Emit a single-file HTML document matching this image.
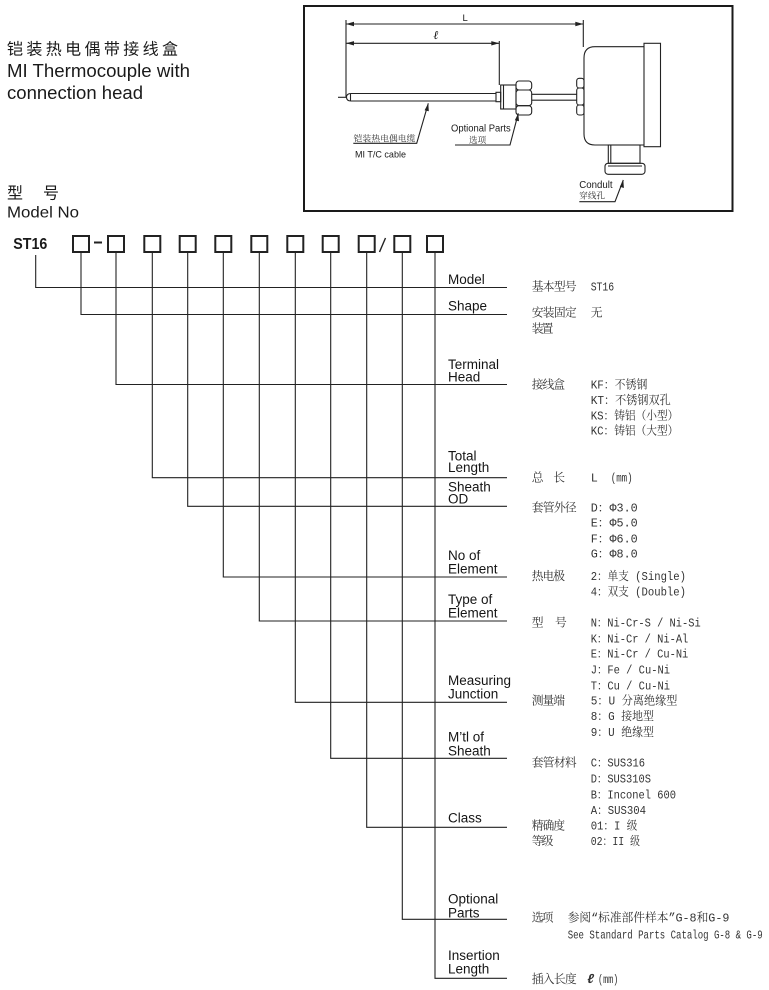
<!DOCTYPE html>
<html><head><meta charset="utf-8"><style>
html,body{margin:0;padding:0;background:#fff;}
svg{display:block;}
.lab{font-family:"Liberation Sans","Noto Sans CJK SC",sans-serif;font-size:13.5px;fill:#151515;}
.cn{font-family:"Liberation Mono","Noto Serif CJK SC",serif;font-size:11.8px;fill:#333;}
.sm{font-family:"Liberation Sans","Noto Sans CJK SC",sans-serif;fill:#1a1a1a;}
</style></head><body>
<svg width="769" height="990" viewBox="0 0 769 990" xmlns="http://www.w3.org/2000/svg">
<rect width="769" height="990" fill="#fff"/>

<!-- Title -->
<text x="7" y="54.5" font-family="'Noto Sans CJK SC',sans-serif" font-size="16" fill="#1a1a1a" textLength="171" lengthAdjust="spacing">铠装热电偶带接线盒</text>
<text x="7" y="77" font-family="'Liberation Sans',sans-serif" font-size="18.5" fill="#1a1a1a" textLength="183" lengthAdjust="spacingAndGlyphs">MI Thermocouple with</text>
<text x="7" y="99" font-family="'Liberation Sans',sans-serif" font-size="18.5" fill="#1a1a1a" textLength="136" lengthAdjust="spacingAndGlyphs">connection head</text>
<text x="7" y="198.5" font-family="'Noto Sans CJK SC',sans-serif" font-size="16" fill="#1a1a1a">型</text>
<text x="43" y="198.5" font-family="'Noto Sans CJK SC',sans-serif" font-size="16" fill="#1a1a1a">号</text>
<text x="7" y="217.5" font-family="'Liberation Sans',sans-serif" font-size="16" fill="#1a1a1a" textLength="72" lengthAdjust="spacingAndGlyphs">Model No</text>

<!-- Drawing box -->
<rect x="304" y="6" width="428.5" height="205" fill="none" stroke="#1a1a1a" stroke-width="2"/>
<g stroke="#222" stroke-width="1.1" fill="none">
  <line x1="346" y1="24" x2="583.3" y2="24"/>
  <line x1="346" y1="43.3" x2="499.3" y2="43.3"/>
  <line x1="346" y1="20" x2="346" y2="97"/>
  <line x1="499.3" y1="41" x2="499.3" y2="85"/>
  <line x1="583.3" y1="20" x2="583.3" y2="47"/>
  <line x1="338" y1="97.3" x2="346" y2="97.3"/>
  <path d="M496,93.5 L351,93.5 Q346.5,93.5 346.5,97.3 Q346.5,101 351,101 L496,101"/>
  <line x1="350.5" y1="93.5" x2="350.5" y2="101"/>
  <rect x="496" y="92.3" width="4.7" height="9.4"/>
  <rect x="500.7" y="85" width="15.3" height="24"/>
  <line x1="503.5" y1="85" x2="503.5" y2="109"/>
  <rect x="516" y="81" width="15.7" height="9" rx="3"/>
  <rect x="516" y="90" width="15.7" height="15.7" rx="3"/>
  <rect x="516" y="105.7" width="15.7" height="9.3" rx="3"/>
  <line x1="531.7" y1="94.3" x2="576.7" y2="94.3"/>
  <line x1="531.7" y1="100.2" x2="576.7" y2="100.2"/>
  <rect x="576.7" y="78.3" width="7.3" height="9.7" rx="2.5"/>
  <rect x="576.7" y="88" width="7.3" height="17" rx="2.5"/>
  <rect x="576.7" y="105" width="7.3" height="10" rx="2.5"/>
  <path d="M644,46.7 L595,46.7 Q584,46.7 584,58 L584,134 Q584,145 595,145 L644,145"/>
  <rect x="644" y="43.3" width="16.5" height="103.4"/>
  <rect x="608.3" y="145" width="31.7" height="18.3"/>
  <line x1="610.8" y1="145" x2="610.8" y2="163.3"/>
  <rect x="605" y="163.3" width="40" height="11" rx="3"/>
  <line x1="608" y1="166" x2="642" y2="166"/>
  <polyline points="428.3,103.3 416.7,143.3 353.3,143.3"/>
  <polyline points="518.3,113.3 510,145 455,145"/>
  <polyline points="623.3,180 615,201.7 579.3,201.7"/>
</g>
<g fill="#222">
  <polygon points="346,24 354,21.8 354,26.2"/>
  <polygon points="583.3,24 575.3,21.8 575.3,26.2"/>
  <polygon points="346,43.3 354,41.1 354,45.5"/>
  <polygon points="499.3,43.3 491.3,41.1 491.3,45.5"/>
  <polygon points="428.3,103.3 424.6,110.2 428.8,111.2"/>
  <polygon points="518.3,113.3 514.8,120.2 519,121.2"/>
  <polygon points="623.3,180 619.8,186.8 623.9,188"/>
</g>
<text x="462.5" y="21" class="sm" font-size="9.5">L</text>
<text x="433.5" y="39" font-family="'Liberation Serif',serif" font-style="italic" font-weight="bold" font-size="12" fill="#111">ℓ</text>
<text x="353.5" y="141.5" font-family="'Noto Serif CJK SC',serif" font-size="8.5" fill="#333" textLength="62" lengthAdjust="spacingAndGlyphs">铠装热电偶电缆</text>
<text x="355" y="157.5" class="sm" font-size="9.5" textLength="51" lengthAdjust="spacingAndGlyphs">MI T/C cable</text>
<text x="451" y="131.5" class="sm" font-size="10" textLength="59.7" lengthAdjust="spacingAndGlyphs">Optional Parts</text>
<text x="469" y="143" font-family="'Noto Serif CJK SC',serif" font-size="8.5" fill="#333" textLength="17.3" lengthAdjust="spacingAndGlyphs">选项</text>
<text x="579.3" y="188" class="sm" font-size="10" textLength="33.3" lengthAdjust="spacingAndGlyphs">Condult</text>
<text x="579.3" y="198.5" font-family="'Noto Serif CJK SC',serif" font-size="8.5" fill="#333" textLength="25.7" lengthAdjust="spacingAndGlyphs">穿线孔</text>

<!-- Model code row -->
<text x="13.3" y="249" font-family="'Liberation Sans',sans-serif" font-weight="bold" font-size="15.5" fill="#1a1a1a" textLength="34" lengthAdjust="spacingAndGlyphs">ST16</text>
<g fill="none" stroke="#222" stroke-width="2">
  <rect x="73" y="236" width="16" height="16"/>
  <rect x="108" y="236" width="16" height="16"/>
  <rect x="144.3" y="236" width="16" height="16"/>
  <rect x="179.7" y="236" width="16" height="16"/>
  <rect x="215.3" y="236" width="16" height="16"/>
  <rect x="251.3" y="236" width="16" height="16"/>
  <rect x="287.3" y="236" width="16" height="16"/>
  <rect x="322.7" y="236" width="16" height="16"/>
  <rect x="358.7" y="236" width="16" height="16"/>
  <rect x="394.3" y="236" width="16" height="16"/>
  <rect x="427" y="236" width="16" height="16"/>
  <line x1="94" y1="242.5" x2="102" y2="242.5"/>
</g>
<line x1="379.5" y1="252" x2="385.5" y2="238" stroke="#222" stroke-width="1.4"/>

<!-- Tree lines -->
<g stroke="#222" stroke-width="1.1" fill="none">
  <polyline points="35.7,255 35.7,287.5 507,287.5"/>
  <polyline points="81,253 81,314.5 507,314.5"/>
  <polyline points="116,253 116,384.5 507,384.5"/>
  <polyline points="152.3,253 152.3,477.7 507,477.7"/>
  <polyline points="187.7,253 187.7,506.3 507,506.3"/>
  <polyline points="223.3,253 223.3,577 507,577"/>
  <polyline points="259.3,253 259.3,621 507,621"/>
  <polyline points="295.3,253 295.3,702.3 507,702.3"/>
  <polyline points="330.7,253 330.7,758.3 507,758.3"/>
  <polyline points="366.7,253 366.7,827.3 507,827.3"/>
  <polyline points="402.3,253 402.3,919.3 507,919.3"/>
  <polyline points="435,253 435,978.3 507,978.3"/>
</g>

<!-- Left labels -->
<text class="lab" x="448" y="284">Model</text>
<text class="lab" x="448" y="310.5">Shape</text>
<text class="lab" x="448" y="369">Terminal</text>
<text class="lab" x="448" y="381.3">Head</text>
<text class="lab" x="448" y="460.7">Total</text>
<text class="lab" x="448" y="472">Length</text>
<text class="lab" x="448" y="491.5">Sheath</text>
<text class="lab" x="448" y="503.5">OD</text>
<text class="lab" x="448" y="560">No of</text>
<text class="lab" x="448" y="573.3">Element</text>
<text class="lab" x="448" y="604">Type of</text>
<text class="lab" x="448" y="617.3">Element</text>
<text class="lab" x="448" y="685">Measuring</text>
<text class="lab" x="448" y="698.3">Junction</text>
<text class="lab" x="448" y="741.7">M’tl of</text>
<text class="lab" x="448" y="755.7">Sheath</text>
<text class="lab" x="448" y="822.7">Class</text>
<text class="lab" x="448" y="903.3">Optional</text>
<text class="lab" x="448" y="917.3">Parts</text>
<text class="lab" x="448" y="960">Insertion</text>
<text class="lab" x="448" y="973.3">Length</text>

<!-- Right descriptions -->
<g class="cn">
<text x="531.7" y="290.7" textLength="45" lengthAdjust="spacing">基本型号</text>
<text x="590.7" y="290.7" textLength="23.5" lengthAdjust="spacingAndGlyphs">ST16</text>
<text x="531.7" y="316.7" textLength="45" lengthAdjust="spacing">安装固定</text>
<text x="590.7" y="316.7">无</text>
<text x="531.7" y="332.3" textLength="21.7" lengthAdjust="spacing">装置</text>
<text x="531.7" y="388.3" textLength="33.3" lengthAdjust="spacing">接线盒</text>
<text x="590.7" y="388.3" textLength="56.7" lengthAdjust="spacingAndGlyphs">KF：不锈钢</text>
<text x="590.7" y="404" textLength="80" lengthAdjust="spacingAndGlyphs">KT：不锈钢双孔</text>
<text x="590.7" y="419.7" textLength="87.7" lengthAdjust="spacingAndGlyphs">KS：铸铝（小型）</text>
<text x="590.7" y="434.7" textLength="87.7" lengthAdjust="spacingAndGlyphs">KC：铸铝（大型）</text>
<text x="531.7" y="481.7">总</text>
<text x="553.3" y="481.7">长</text>
<text x="590.7" y="481.7">L</text>
<text x="610.7" y="481.7" textLength="22" lengthAdjust="spacingAndGlyphs">(mm)</text>
<text x="531.7" y="511.7" textLength="45" lengthAdjust="spacing">套管外径</text>
<text x="590.7" y="511.7" textLength="47" lengthAdjust="spacingAndGlyphs">D：Φ3.0</text>
<text x="590.7" y="526.7" textLength="47" lengthAdjust="spacingAndGlyphs">E：Φ5.0</text>
<text x="590.7" y="542.3" textLength="47" lengthAdjust="spacingAndGlyphs">F：Φ6.0</text>
<text x="590.7" y="557.7" textLength="47" lengthAdjust="spacingAndGlyphs">G：Φ8.0</text>
<text x="531.7" y="580" textLength="33.3" lengthAdjust="spacing">热电极</text>
<text x="590.7" y="580" textLength="95.3" lengthAdjust="spacingAndGlyphs">2：单支 (Single)</text>
<text x="590.7" y="595.7" textLength="95.3" lengthAdjust="spacingAndGlyphs">4：双支 (Double)</text>
<text x="531.7" y="626.7">型</text>
<text x="555" y="626.7">号</text>
<text x="590.7" y="626.7" textLength="110" lengthAdjust="spacingAndGlyphs">N：Ni-Cr-S / Ni-Si</text>
<text x="590.7" y="642.7" textLength="97.6" lengthAdjust="spacingAndGlyphs">K：Ni-Cr / Ni-Al</text>
<text x="590.7" y="657.3" textLength="97.6" lengthAdjust="spacingAndGlyphs">E：Ni-Cr / Cu-Ni</text>
<text x="590.7" y="673.3" textLength="79.3" lengthAdjust="spacingAndGlyphs">J：Fe / Cu-Ni</text>
<text x="590.7" y="689.7" textLength="79.3" lengthAdjust="spacingAndGlyphs">T：Cu / Cu-Ni</text>
<text x="531.7" y="704.7" textLength="33.3" lengthAdjust="spacing">测量端</text>
<text x="590.7" y="704.7" textLength="86.7" lengthAdjust="spacingAndGlyphs">5：U 分离绝缘型</text>
<text x="590.7" y="720" textLength="63.3" lengthAdjust="spacingAndGlyphs">8：G 接地型</text>
<text x="590.7" y="736" textLength="63.3" lengthAdjust="spacingAndGlyphs">9：U 绝缘型</text>
<text x="531.7" y="766.7" textLength="45" lengthAdjust="spacing">套管材料</text>
<text x="590.7" y="766.7" textLength="54.3" lengthAdjust="spacingAndGlyphs">C：SUS316</text>
<text x="590.7" y="782.3" textLength="60.3" lengthAdjust="spacingAndGlyphs">D：SUS310S</text>
<text x="590.7" y="798.3" textLength="85.3" lengthAdjust="spacingAndGlyphs">B：Inconel 600</text>
<text x="590.7" y="814" textLength="55.3" lengthAdjust="spacingAndGlyphs">A：SUS304</text>
<text x="531.7" y="829.7" textLength="33.3" lengthAdjust="spacing">精确度</text>
<text x="590.7" y="829.7" textLength="46.7" lengthAdjust="spacingAndGlyphs">01：I 级</text>
<text x="531.7" y="845" textLength="21.7" lengthAdjust="spacing">等级</text>
<text x="590.7" y="845" textLength="49.3" lengthAdjust="spacingAndGlyphs">02：II 级</text>
<text x="531.7" y="921.7" textLength="21.7" lengthAdjust="spacing">选项</text>
<text x="567.7" y="921.7" textLength="161.7" lengthAdjust="spacingAndGlyphs">参阅“标准部件样本”G-8和G-9</text>
<text x="567.7" y="938.3" textLength="195" lengthAdjust="spacingAndGlyphs">See Standard Parts Catalog G-8 &amp; G-9</text>
<text x="531.7" y="983" textLength="45" lengthAdjust="spacing">插入长度</text>
<text x="586.7" y="983" font-style="italic" font-weight="bold" font-size="13" textLength="8">ℓ</text>
<text x="598" y="983" textLength="20.3" lengthAdjust="spacingAndGlyphs">(mm)</text>
</g>
</svg>
</body></html>
